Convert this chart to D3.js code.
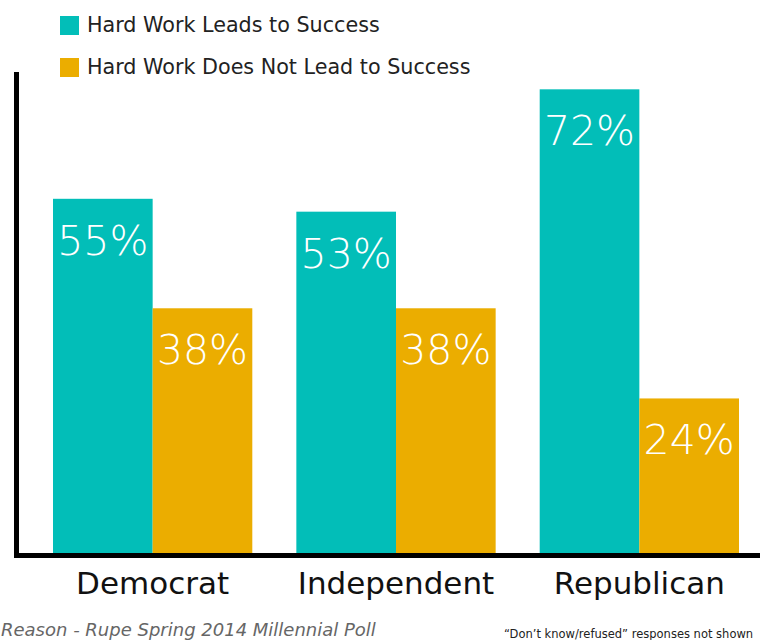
<!DOCTYPE html>
<html>
<head>
<meta charset="utf-8">
<script src="https://cdn.jsdelivr.net/npm/d3@7"></script>
<style>
	body { margin: 0; background: #fff; }
	svg { display: block; }
	text { font-family: "DejaVu Sans", sans-serif; }
</style>
</head>
<body>
<svg id="chart" width="760" height="640"></svg>
<script>
var categories = ["Democrat", "Independent", "Republican"];
var seriesNames = ["Hard Work Leads to Success", "Hard Work Does Not Lead to Success"];
var leadsValues = [55, 53, 72];
var notLeadValues = [38, 38, 24];
var colors = ["#02beb8", "#ebad00"];

var width = 760, height = 640;
var svg = d3.select("#chart");

var rows = categories.map(function (c, i) {
	return {cat: c, vals: [leadsValues[i], notLeadValues[i]]};
});

var x0 = d3.scaleBand()
	.domain(categories)
	.range([53, 739])
	.paddingInner(0.181)
	.paddingOuter(0);

var x1 = d3.scaleBand()
	.domain([0, 1])
	.range([0, x0.bandwidth()]);

var y = d3.scaleLinear()
	.domain([0, 75])
	.range([553, 70]);

// bars
var groups = svg.append("g").selectAll("g")
	.data(rows)
	.enter().append("g")
	.attr("transform", function (d) {return "translate(" + x0(d.cat) + ",0)";});

groups.selectAll("rect")
	.data(function (d) {return d.vals.map(function (v, i) {return {i: i, v: v};});})
	.enter().append("rect")
	.attr("x", function (d) {return x1(d.i);})
	.attr("y", function (d) {return y(d.v);})
	.attr("width", x1.bandwidth())
	.attr("height", function (d) {return y(0) - y(d.v);})
	.attr("fill", function (d) {return colors[d.i];});

groups.selectAll("text.val")
	.data(function (d) {return d.vals.map(function (v, i) {return {i: i, v: v};});})
	.enter().append("text")
	.attr("class", "val")
	.attr("x", function (d) {return x1(d.i) + x1.bandwidth() / 2;})
	.attr("y", function (d) {return y(d.v) + 56;})
	.attr("text-anchor", "middle")
	.attr("fill", "#fff")
	.style("font-size", "41px")
	.style("font-weight", 200)
	.text(function (d) {return d.v + "%";});

// axes lines
svg.append("line")
	.attr("x1", 16.5).attr("x2", 16.5)
	.attr("y1", 72).attr("y2", 558)
	.attr("stroke", "#000").attr("stroke-width", 5);

svg.append("line")
	.attr("x1", 14).attr("x2", width)
	.attr("y1", 555.5).attr("y2", 555.5)
	.attr("stroke", "#000").attr("stroke-width", 5);

// category labels
svg.append("g").selectAll("text")
	.data(categories)
	.enter().append("text")
	.attr("x", function (d) {return x0(d) + x0.bandwidth() / 2;})
	.attr("y", 594)
	.attr("text-anchor", "middle")
	.attr("fill", "#111")
	.style("font-size", "31px")
	.text(function (d) {return d;});

// legend
var legend = svg.append("g").selectAll("g")
	.data(seriesNames)
	.enter().append("g")
	.attr("transform", function (d, i) {return "translate(60," + (16 + i * 42) + ")";});

legend.append("rect")
	.attr("width", 19).attr("height", 19)
	.attr("fill", function (d, i) {return colors[i];});

legend.append("text")
	.attr("x", 27).attr("y", 16)
	.attr("fill", "#222")
	.style("font-size", "20.7px")
	.text(function (d) {return d;});

// footer
svg.append("text")
	.attr("x", 1).attr("y", 636)
	.attr("fill", "#666")
	.style("font-size", "18px")
	.style("font-style", "italic")
	.text("Reason - Rupe Spring 2014 Millennial Poll");

svg.append("text")
	.attr("x", 504).attr("y", 638)
	.attr("fill", "#222")
	.style("font-size", "11.5px")
	.text("\u201cDon\u2019t know/refused\u201d responses not shown");
</script>
</body>
</html>
